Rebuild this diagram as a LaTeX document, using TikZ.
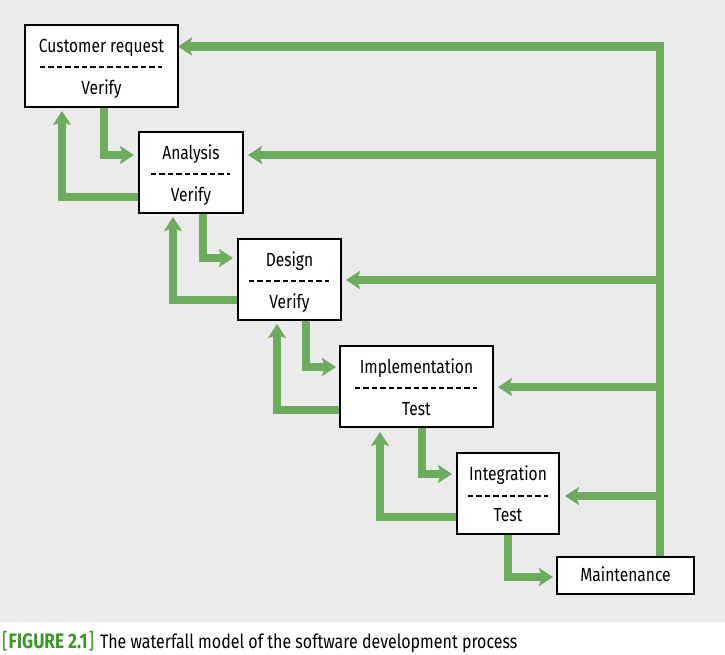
\documentclass[tikz,border=0pt]{standalone}
\usepackage{fontspec}
\setmainfont{Fira Sans}[FakeStretch=0.82]
\usetikzlibrary{arrows.meta}
\definecolor{flowgreen}{RGB}{108,172,92}
\definecolor{bggray}{RGB}{235,235,235}
\definecolor{capgreen}{RGB}{60,150,40}
\tikzset{
  flow/.style={draw=flowgreen,line width=8.5pt,line join=miter,
    -{Stealth[length=14pt,width=18pt,inset=3pt]}},
  box/.style={draw=black,line width=2pt,fill=white,inner sep=0pt},
  lbl/.style={inner sep=0pt,anchor=base,font=\fontsize{19}{22}\selectfont},
  dashline/.style={draw=black,line width=2pt,dash pattern=on 5.3pt off 3.1pt},
}
\begin{document}
\begin{tikzpicture}[x=1pt,y=-1pt]
\fill[white] (0,0) rectangle (725,654);
\useasboundingbox (0,0) rectangle (725,654);
\fill[bggray] (0,0) rectangle (725,622);

% boxes (anchors only; visible boxes are drawn on top later)
\path[box,draw=none,fill=none]
  node[minimum width=153pt,minimum height=82pt] (cr) at (101.5,66) {}
  node[minimum width=104pt,minimum height=81pt] (an) at (191,172.5) {}
  node[minimum width=103pt,minimum height=81pt] (de) at (289.5,279.5) {}
  node[minimum width=153pt,minimum height=81pt] (im) at (416.5,386.5) {}
  node[minimum width=102pt,minimum height=81pt] (in) at (508,493.5) {}
  node[minimum width=137pt,minimum height=37pt] (ma) at (625.5,575.5) {};

% feedback trunk from maintenance
\coordinate (tt) at (660,46.5);
\draw[flow,shorten >=-1pt] (tt |- ma.north) -- (tt) -- (cr.east |- tt);
\draw[flow,shorten >=4pt] (tt |- 0,155) -- (an.east |- 0,155);
\draw[flow,shorten >=4pt] (tt |- 0,280) -- (de.east |- 0,280);
\draw[flow,shorten >=4pt] (tt |- 0,387) -- (im.east |- 0,387);
\draw[flow,shorten >=5pt] (tt |- 0,496) -- (in.east |- 0,496);

% forward arrows
\draw[flow,shorten >=4pt] (104,0 |- cr.south) -- (104,155) -- (an.west |- 0,155);
\draw[flow,shorten >=4pt] (203,0 |- an.south) -- (203,258) -- (de.west |- 0,258);
\draw[flow,shorten >=3pt] (306,0 |- de.south) -- (306,367) -- (im.west |- 0,367);
\draw[flow,shorten >=4pt] (422,0 |- im.south) -- (422,474) -- (in.west |- 0,474);
\draw[flow,shorten >=3pt] (508,0 |- in.south) -- (508,577) -- (ma.west |- 0,577);

% backward arrows
\draw[flow,shorten >=3pt] (an.west |- 0,197) -- (62,197) -- (62,0 |- cr.south);
\draw[flow,shorten >=3pt] (de.west |- 0,300) -- (173,300) -- (173,0 |- an.south);
\draw[flow,shorten >=3pt] (im.west |- 0,410) -- (277,410) -- (277,0 |- de.south);
\draw[flow,shorten >=4pt] (in.west |- 0,517) -- (380,517) -- (380,0 |- im.south);

% visible boxes
\node[box,minimum width=153pt,minimum height=82pt] (crb) at (cr) {};
\node[box,minimum width=104pt,minimum height=81pt] (anb) at (an) {};
\node[box,minimum width=103pt,minimum height=81pt] (deb) at (de) {};
\node[box,minimum width=153pt,minimum height=81pt] (imb) at (im) {};
\node[box,minimum width=102pt,minimum height=81pt] (inb) at (in) {};
\node[box,minimum width=137pt,minimum height=37pt] (mab) at (ma) {};

% texts
\node[lbl] (crt) at (101.5,52.5) {Customer request};
\node[lbl] (crv) at (101.5,94) {Verify};
\node[lbl] (ant) at (191,159.5) {Analysis};
\node[lbl] (anv) at (191,201) {Verify};
\node[lbl] (det) at (289.5,266.5) {Design};
\node[lbl] (dev) at (289.5,308) {Verify};
\node[lbl] (imt) at (416.5,373.5) {Implementation};
\node[lbl] (imv) at (416.5,415) {Test};
\node[lbl] (int) at (508,480) {Integration};
\node[lbl] (inv) at (508,521.5) {Test};
\node[lbl] (mat) at (625.5,581.5) {Maintenance};

% dashed separators
\draw[dashline] (40,67) -- (162,67);
\draw[dashline] (151,174) -- (230,174);
\draw[dashline] (249,281) -- (329,281);
\draw[dashline] (355,388) -- (477,388);
\draw[dashline] (468,496) -- (548,496);

% caption
\node[inner sep=0pt,anchor=base west,font=\fontsize{19.5}{22}\selectfont] (cap) at (2,648.3)
  {\textcolor{capgreen}{\fontsize{21}{22}\selectfont[\kern1pt\textbf{\fontsize{21}{22}\selectfont FIGURE 2.1}\kern1pt]}\kern6pt The waterfall model of the software development process};
\end{tikzpicture}
\end{document}
